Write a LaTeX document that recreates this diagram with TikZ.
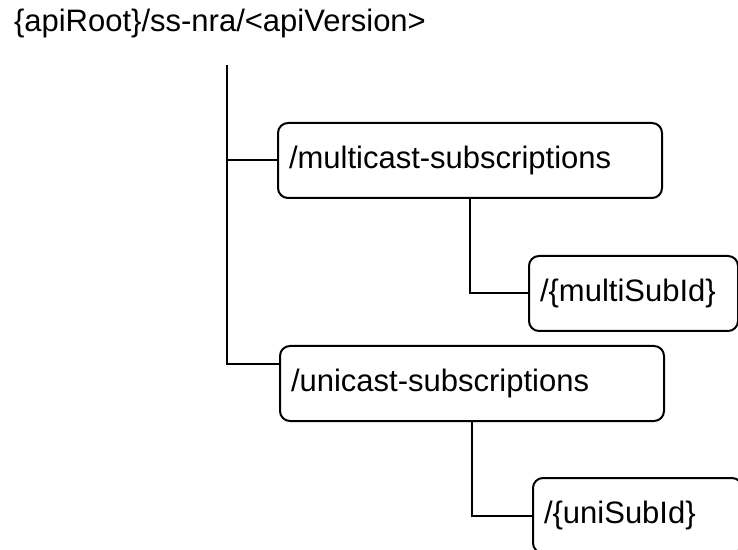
\documentclass[tikz,border=0pt]{standalone}
\usepackage{fontspec}
\setmainfont{Liberation Sans}
\begin{document}
\begin{tikzpicture}[x=0.5pt,y=-0.5pt,line width=1pt,
    every node/.style={font=\fontsize{15.5}{18}\selectfont},
    res/.style={draw,rounded corners=5pt,anchor=north west,minimum height=37.5pt,
      inner xsep=5.5pt,text width=#1,align=left}]
  \clip (0,0) rectangle (738,550);
  \node[anchor=base west,inner sep=0pt] (root) at (13,32) {\{apiRoot\}/ss-nra/<apiVersion>};
  \coordinate (top) at (227,65);
  % resources
  \node[res=181pt] (multi) at (277,122) {/multicast-subscriptions};
  \node[res=93.5pt] (multiId) at (528,255) {/\{multiSubId\}};
  \node[res=181pt] (uni) at (279,345) {/unicast-subscriptions};
  \node[res=93.5pt] (uniId) at (532,477) {/\{uniSubId\}};
  % tree lines
  \draw (top) |- ([yshift=9.75pt]uni.west);
  \draw (top |- multi.west) -- (multi.west);
  \draw (multi.south) |- (multiId.west);
  \draw (uni.south) |- (uniId.west);
\end{tikzpicture}
\end{document}
